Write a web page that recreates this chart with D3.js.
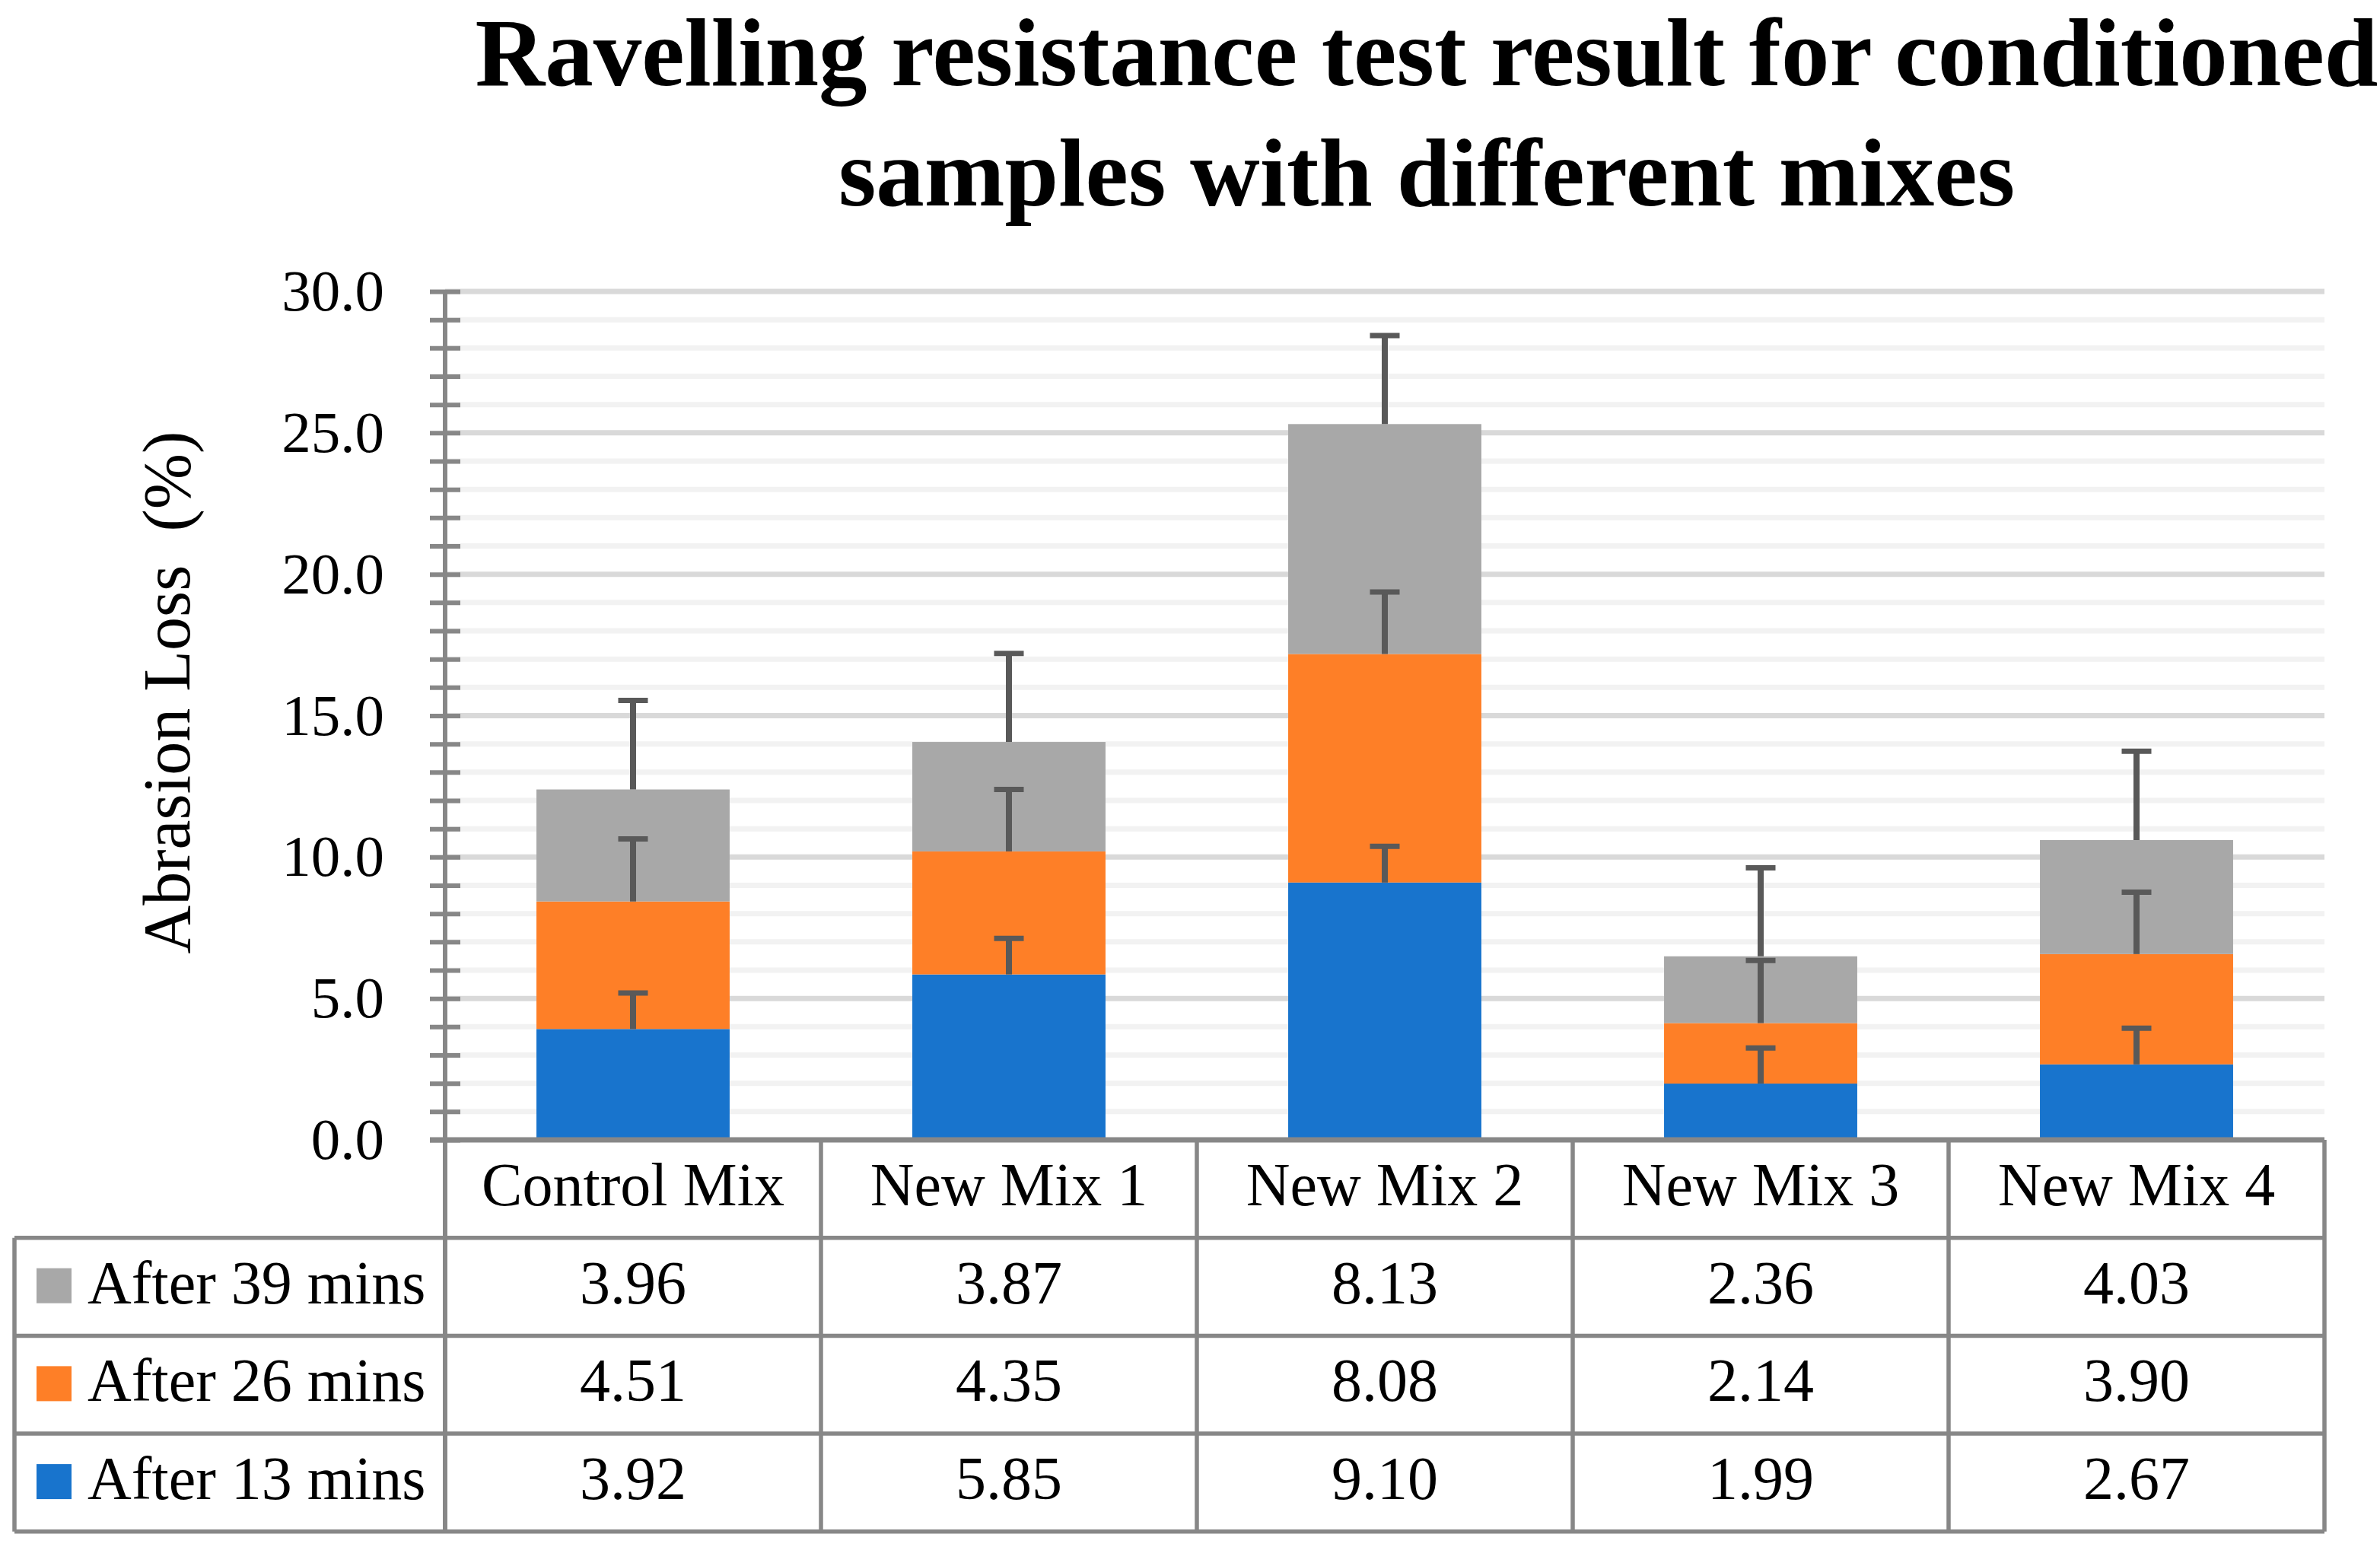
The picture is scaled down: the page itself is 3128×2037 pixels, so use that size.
<!DOCTYPE html>
<html>
<head>
<meta charset="utf-8">
<script src="https://cdn.jsdelivr.net/npm/d3@7"></script>
<style>
  body { margin: 0; background: #fff; }
  svg { display: block; }
  text { font-family: "Palatino Linotype", "Book Antiqua", Palatino, "Liberation Serif", serif; fill: #000; }
</style>
</head>
<body>
<svg id="chart" width="3128" height="2037"></svg>
<script>
/* Daten */
const mixes = ["Control Mix", "New Mix 1", "New Mix 2", "New Mix 3", "New Mix 4"];
const seriesNames = ["After 13 mins", "After 26 mins", "After 39 mins"];
const after13 = [3.92, 5.85, 9.10, 1.99, 2.67];
const after26 = [4.51, 4.35, 8.08, 2.14, 3.90];
const after39 = [3.96, 3.87, 8.13, 2.36, 4.03];
// Fehlerbalken (nur nach oben)
const err13 = [1.27, 1.27, 1.28, 1.26, 1.28];
const err26 = [2.21, 2.19, 2.19, 2.21, 2.19];
const err39 = [3.15, 3.13, 3.13, 3.13, 3.14];
const majorTicks = [0, 5, 10, 15, 20, 25, 30];
const minorTicks = d3.range(0, 31, 1);
const colors = ["#1874cd", "#fe7f27", "#a8a8a8"];
const title = ["Ravelling resistance test result for conditioned", "samples with different mixes"];
const yLabel = "Abrasion Loss\u00a0 (%)";

const svg = d3.select("#chart");
const plotLeft = 585, plotRight = 3055, plotTop = 383, plotBottom = 1498;
const rowH = 128.7;
const gridColor = "#878787";

const x = d3.scaleBand().domain(mixes).range([plotLeft, plotRight]).paddingInner(0.486).paddingOuter(0.243);
const y = d3.scaleLinear().domain([0, 30]).range([plotBottom, plotTop]);
const fmt = d3.format(".1f");

/* Gitterlinien */
svg.append("g").selectAll("line")
  .data(minorTicks.filter(d => d > 0))
  .join("line")
  .attr("x1", plotLeft).attr("x2", plotRight)
  .attr("y1", d => y(d)).attr("y2", d => y(d))
  .attr("stroke", d => majorTicks.includes(d) ? "#d9d9d9" : "#f2f2f2")
  .attr("stroke-width", 7);

/* Gestapelte Balken */
const table = mixes.map((m, i) => ({ mix: m, s0: after13[i], s1: after26[i], s2: after39[i] }));
const errs = [err13, err26, err39];
const stack = d3.stack().keys(["s0", "s1", "s2"]);
const stacked = stack(table);

const layer = svg.append("g").selectAll("g")
  .data(stacked)
  .join("g")
  .attr("fill", (d, i) => colors[i]);

layer.selectAll("rect")
  .data(d => d)
  .join("rect")
  .attr("x", d => x(d.data.mix))
  .attr("width", x.bandwidth())
  .attr("y", d => y(d[1]))
  .attr("height", d => y(d[0]) - y(d[1]));

/* Fehlerbalken */
const errG = svg.append("g").attr("stroke", "#595959");
stacked.forEach((ser, si) => {
  ser.forEach((d, i) => {
    const cx = x(d.data.mix) + x.bandwidth() / 2;
    const yTop = y(d[1] + errs[si][i]);
    errG.append("line")
      .attr("x1", cx).attr("x2", cx)
      .attr("y1", y(d[1])).attr("y2", yTop)
      .attr("stroke-width", 8);
    errG.append("line")
      .attr("x1", cx - 19.5).attr("x2", cx + 19.5)
      .attr("y1", yTop).attr("y2", yTop)
      .attr("stroke-width", 7);
  });
});

/* Y-Achse */
const yAxis = svg.append("g")
  .attr("transform", `translate(${plotLeft},0)`)
  .call(d3.axisLeft(y)
    .tickValues(minorTicks)
    .tickFormat(d => majorTicks.includes(d) ? fmt(d) : "")
    .tickSize(20)
    .tickSizeOuter(0)
    .tickPadding(60));
yAxis.select(".domain").remove();
yAxis.selectAll(".tick line")
  .attr("x1", 20)
  .attr("stroke", gridColor)
  .attr("stroke-width", 6);
yAxis.selectAll(".tick text")
  .attr("font-size", 77)
  .attr("fill", "#000");
yAxis.attr("font-family", null).attr("font-size", null);

/* Tabelle */
const tg = svg.append("g").attr("stroke", gridColor).attr("stroke-width", 5.5).attr("fill", "none");
const tableBottom = plotBottom + 4 * rowH;
// horizontale Linien
tg.append("line").attr("x1", plotLeft - 20).attr("x2", plotRight).attr("y1", plotBottom).attr("y2", plotBottom).attr("stroke-width", 7);
for (let r = 1; r <= 4; r++) {
  tg.append("line").attr("x1", 19).attr("x2", plotRight)
    .attr("y1", plotBottom + r * rowH).attr("y2", plotBottom + r * rowH);
}
// vertikale Linien
tg.append("line").attr("x1", plotLeft).attr("x2", plotLeft).attr("y1", plotTop).attr("y2", tableBottom).attr("stroke-width", 6);
tg.append("line").attr("x1", 19).attr("x2", 19).attr("y1", plotBottom + rowH).attr("y2", tableBottom);
mixes.forEach((m, i) => {
  const xr = plotLeft + x.step() * (i + 1);
  tg.append("line").attr("x1", xr).attr("x2", xr).attr("y1", plotBottom).attr("y2", tableBottom);
});

// Kopfzeile
svg.append("g").selectAll("text")
  .data(mixes)
  .join("text")
  .attr("x", d => x(d) + x.bandwidth() / 2)
  .attr("y", plotBottom + 86)
  .attr("text-anchor", "middle")
  .attr("font-size", 80)
  .text(d => d);

// Datenzeilen (39, 26, 13 von oben nach unten)
const rows = [
  { name: seriesNames[2], values: after39, color: colors[2] },
  { name: seriesNames[1], values: after26, color: colors[1] },
  { name: seriesNames[0], values: after13, color: colors[0] }
];
rows.forEach((row, r) => {
  const rowTop = plotBottom + (r + 1) * rowH;
  svg.append("rect")
    .attr("x", 48).attr("y", rowTop + 40)
    .attr("width", 46).attr("height", 46)
    .attr("fill", row.color);
  svg.append("text")
    .attr("x", 115).attr("y", rowTop + 86)
    .attr("font-size", 80)
    .text(row.name);
  svg.append("g").selectAll("text")
    .data(row.values)
    .join("text")
    .attr("x", (d, i) => x(mixes[i]) + x.bandwidth() / 2)
    .attr("y", rowTop + 86)
    .attr("text-anchor", "middle")
    .attr("font-size", 80)
    .text(d => d.toFixed(2));
});

/* Achsentitel */
svg.append("text")
  .attr("transform", "translate(249,910) rotate(-90)")
  .attr("text-anchor", "middle")
  .attr("font-size", 88)
  .text(yLabel);

/* Titel */
svg.append("g").selectAll("text")
  .data(title)
  .join("text")
  .attr("x", 1875)
  .attr("y", (d, i) => 112 + i * 158)
  .attr("text-anchor", "middle")
  .attr("font-size", 127)
  .attr("font-weight", "bold")
  .text(d => d);
</script>
</body>
</html>
